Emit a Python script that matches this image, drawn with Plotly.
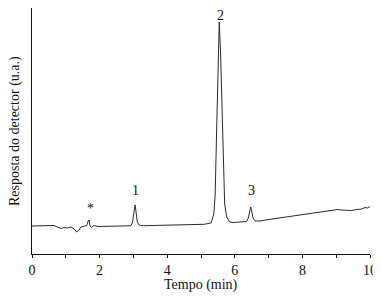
import plotly.graph_objects as go

# Chromatogram trace (time in min, detector response in u.a.)
tempo = [0.0, 0.3, 0.5, 0.65, 0.75, 0.85, 0.95, 1.05, 1.15, 1.25, 1.32, 1.38, 1.45, 1.55, 1.62,
         1.66, 1.69, 1.72, 1.76, 1.80, 1.85, 1.95, 2.1, 2.4, 2.7, 2.9,
         2.93, 2.97, 3.00, 3.03, 3.05, 3.08, 3.11, 3.15, 3.2,
         3.3, 3.6, 3.9, 4.2, 4.5, 4.8, 5.0, 5.1, 5.2,
         5.30, 5.38, 5.42, 5.46, 5.50, 5.54, 5.58, 5.62, 5.66, 5.70, 5.76, 5.85,
         5.95, 6.1, 6.25,
         6.35, 6.40, 6.44, 6.47, 6.50, 6.54, 6.60, 6.68,
         6.75, 6.9, 7.0, 7.15, 7.3, 7.45, 7.6, 7.75, 7.9, 8.05, 8.2, 8.35, 8.5, 8.65,
         8.8, 8.95, 9.05, 9.15, 9.3, 9.45, 9.6, 9.75, 9.85, 9.92, 10.0]
resposta = [28, 28.3, 28, 28.5, 27, 25.5, 26.5, 26, 27, 25, 22, 23.5, 27, 27.5, 28.5,
            33, 34, 28, 26.5, 28, 28.5, 27.5, 27.5, 27.8, 28, 28.2,
            28.5, 31, 38, 47, 49, 42, 33, 29.5, 28.5,
            28.3, 28.5, 28.8, 29, 29.2, 29.8, 30, 29.7, 30.5,
            31, 40, 60, 120, 195, 232, 200, 140, 85, 50, 37, 32,
            31.5, 32, 32.3,
            32.5, 36, 43, 47, 43, 36, 33, 33,
            33, 34, 34.5, 35.5, 36, 37, 37.5, 38.5, 39, 39.5, 41, 41.5, 42, 42.5,
            43.5, 44, 44.5, 44, 43.5, 43.5, 44.5, 45, 46.5, 46, 47.5]

# Peak labels
rotulos = ["*", "1", "2", "3"]
rotulos_x = [1.72, 3.05, 5.57, 6.5]
rotulos_y = [46, 64, 239, 64]

fig = go.Figure()
fig.add_trace(go.Scatter(x=tempo, y=resposta, mode="lines",
                         line=dict(color="#2a2a2a", width=1), showlegend=False))

for txt, xx, yy in zip(rotulos, rotulos_x, rotulos_y):
    fig.add_annotation(x=xx, y=yy, text=txt, showarrow=False,
                       font=dict(size=14, color="#111111"))

# axis titles as annotations (fixed plot area)
fig.add_annotation(x=0.5, y=0, xref="paper", yref="paper", text="Tempo (min)",
                   showarrow=False, yanchor="middle", yshift=-31,
                   font=dict(size=14, color="#111111"))
fig.add_annotation(x=0, y=0.5, xref="paper", yref="paper", text="Resposta do detector (u.a.)",
                   showarrow=False, xanchor="center", textangle=-90, xshift=-17,
                   font=dict(size=14, color="#111111"))

# page body has an 8px margin, so the figure is sized/margined to compensate
fig.update_layout(
    width=373, height=291,
    margin=dict(l=24, r=11, t=0, b=45),
    paper_bgcolor="white", plot_bgcolor="white",
    font=dict(family="Liberation Serif", size=14, color="#111111"),
)
fig.update_xaxes(range=[0, 10], tickvals=[0, 2, 4, 6, 8, 10], ticks="outside", ticklen=3,
                 tickcolor="#111111", showline=True, linecolor="#111111", linewidth=1,
                 showgrid=False, zeroline=False, automargin=False,
                 minor=dict(tickvals=[1, 3, 5, 7, 9], ticks="outside", ticklen=3, tickcolor="#111111"))
fig.update_yaxes(range=[0, 246], showticklabels=False, ticks="", showline=True,
                 linecolor="#111111", linewidth=1, showgrid=False, zeroline=False,
                 automargin=False)

fig.write_html("out.html")
